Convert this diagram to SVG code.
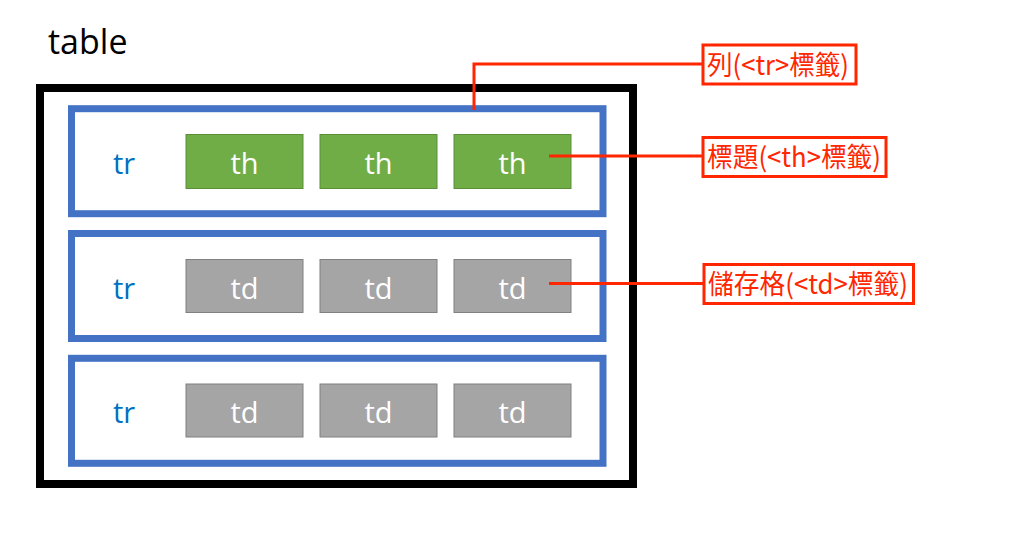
<svg xmlns="http://www.w3.org/2000/svg" width="1024" height="558" viewBox="0 0 1024 558">
<style>
.row{fill:#fff;stroke:#4472C4;stroke-width:7}
.th{fill:#70AD47;stroke:#5A8F38;stroke-width:1}
.td{fill:#A5A5A5;stroke:#808080;stroke-width:1}
.ct{font-family:"Open Sans","Noto Sans",sans-serif;font-size:29px;fill:#fff;text-anchor:middle}
.tr{font-family:"Open Sans","Noto Sans",sans-serif;font-size:29px;font-weight:500;fill:#0070C0;text-anchor:middle}
.cb{fill:#fff;stroke:#FF2600;stroke-width:3}
.cl{font-family:"Noto Sans CJK TC","Noto Sans CJK SC",sans-serif;font-size:27px;fill:#FF2600}
.conn{fill:none;stroke:#FF2600;stroke-width:3}
</style>
<rect width="1024" height="558" fill="#fff"/>
<text x="48" y="54" font-family="Open Sans, Noto Sans, sans-serif" font-size="34" fill="#000">table</text>
<g id="table"><rect x="40" y="88" width="593" height="396" fill="none" stroke="#000" stroke-width="8"/></g>
<g id="row1">
<rect class="row" x="71.5" y="108.7" width="531.5" height="105"/>
<text class="tr" x="124" y="174">tr</text>
<rect class="th" x="186" y="134.5" width="117" height="54"/><text class="ct" x="244.5" y="174">th</text>
<rect class="th" x="320" y="134.5" width="117" height="54"/><text class="ct" x="378.5" y="174">th</text>
<rect class="th" x="454" y="134.5" width="117" height="54"/><text class="ct" x="512.5" y="174">th</text>
</g>
<g id="row2">
<rect class="row" x="71.5" y="233.5" width="531.5" height="105"/>
<text class="tr" x="124" y="298.5">tr</text>
<rect class="td" x="186" y="259.5" width="117" height="53"/><text class="ct" x="244.5" y="298.5">td</text>
<rect class="td" x="320" y="259.5" width="117" height="53"/><text class="ct" x="378.5" y="298.5">td</text>
<rect class="td" x="454" y="259.5" width="117" height="53"/><text class="ct" x="512.5" y="298.5">td</text>
</g>
<g id="row3">
<rect class="row" x="71.5" y="358.3" width="531.5" height="105"/>
<text class="tr" x="124" y="422.5">tr</text>
<rect class="td" x="186" y="384" width="117" height="53"/><text class="ct" x="244.5" y="422.5">td</text>
<rect class="td" x="320" y="384" width="117" height="53"/><text class="ct" x="378.5" y="422.5">td</text>
<rect class="td" x="454" y="384" width="117" height="53"/><text class="ct" x="512.5" y="422.5">td</text>
</g>
<g id="connectors">
<polyline class="conn" points="474,110 474,64 703,64"/>
<line class="conn" x1="549" y1="156" x2="703" y2="156"/>
<line class="conn" x1="549" y1="283.5" x2="704" y2="283.5"/>
</g>
<g id="label-tr">
<rect class="cb" x="703" y="45" width="153" height="39"/>
<text class="cl" x="707" y="74.5" textLength="142" lengthAdjust="spacingAndGlyphs">列(&lt;tr&gt;標籤)</text>
</g>
<g id="label-th">
<rect class="cb" x="703" y="137.5" width="183" height="39"/>
<text class="cl" x="707" y="167" textLength="174" lengthAdjust="spacingAndGlyphs">標題(&lt;th&gt;標籤)</text>
</g>
<g id="label-td">
<rect class="cb" x="704" y="264.5" width="209.5" height="39"/>
<text class="cl" x="708" y="294" textLength="200" lengthAdjust="spacingAndGlyphs">儲存格(&lt;td&gt;標籤)</text>
</g>
</svg>
